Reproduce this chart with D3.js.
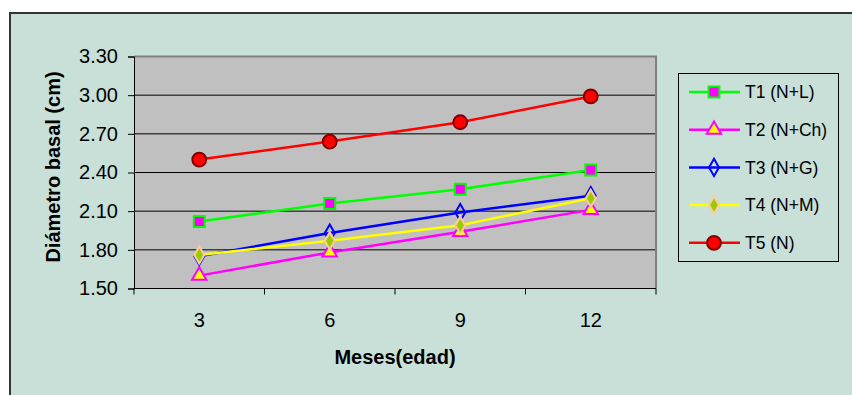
<!DOCTYPE html>
<html>
<head>
<meta charset="utf-8">
<script src="https://cdn.jsdelivr.net/npm/d3@7"></script>
<style>
  html, body { margin: 0; padding: 0; background: #ffffff; }
  svg { display: block; font-family: "Liberation Sans", Arial, sans-serif; }
</style>
</head>
<body>
<div id="chart"></div>
<script>
// data
const months = ["3", "6", "9", "12"];
const yTicks = [1.5, 1.8, 2.1, 2.4, 2.7, 3.0, 3.3];
const seriesNames = ["T1 (N+L)", "T2 (N+Ch)", "T3 (N+G)", "T4 (N+M)", "T5 (N)"];
const t1 = [2.02, 2.16, 2.27, 2.42];
const t2 = [1.60, 1.78, 1.94, 2.11];
const t3 = [1.75, 1.93, 2.09, 2.22];
const t4 = [1.76, 1.87, 1.99, 2.20];
const t5 = [2.50, 2.64, 2.79, 2.99];

const width = 852, height = 395;

// look of each series (line colour + marker)
const styles = [
  { line: "#00ff00", shape: d3.symbolSquare, size: 120, fill: "#ff00ff", stroke: "#00ff00", sw: 2 },
  { line: "#ff00ff", shape: d3.symbolTriangle, size: 90, fill: "#ffff00", stroke: "#ff00ff", sw: 2 },
  { line: "#0000ff", shape: d3.symbolDiamond, size: 85, fill: "none", stroke: "#0000ff", sw: 2 },
  { line: "#ffff00", shape: d3.symbolDiamond, size: 85, fill: "#99cc00", stroke: "#ffcc99", sw: 2 },
  { line: "#ff0000", shape: d3.symbolCircle, size: 150, fill: "#ff0000", stroke: "#800000", sw: 2 }
];
const series = [t1, t2, t3, t4, t5].map((vals, i) => ({ name: seriesNames[i], values: vals, style: styles[i] }));

const svg = d3.select("#chart").append("svg")
    .attr("width", width)
    .attr("height", height);

// chart area background + frame
svg.append("rect")
    .attr("x", 10).attr("y", 13)
    .attr("width", width).attr("height", height)
    .attr("fill", "#c9e0d8")
    .attr("stroke", "#333")
    .attr("stroke-width", 2);

const plot = { left: 134, right: 656, top: 56.5, bottom: 288.5 };

const x = d3.scaleBand().domain(months).range([plot.left, plot.right]);
const y = d3.scaleLinear().domain([1.5, 3.3]).range([plot.bottom, plot.top]);

// plot background
svg.append("rect")
    .attr("x", plot.left).attr("y", plot.top)
    .attr("width", plot.right - plot.left).attr("height", plot.bottom - plot.top)
    .attr("fill", "#c0c0c0");

// gridlines
svg.append("g")
  .selectAll("line")
  .data(yTicks.slice(1, -1))
  .join("line")
    .attr("x1", plot.left).attr("x2", plot.right)
    .attr("y1", d => y(d)).attr("y2", d => y(d))
    .attr("stroke", "#000")
    .attr("stroke-width", 1);

// plot border (top + right in gray)
svg.append("path")
    .attr("d", `M${plot.left},${plot.top}H${plot.right}V${plot.bottom}`)
    .attr("fill", "none")
    .attr("stroke", "#808080")
    .attr("stroke-width", 2);

// y axis
const yAxis = svg.append("g")
    .attr("transform", `translate(${plot.left},0)`)
    .call(d3.axisLeft(y).tickValues(yTicks).tickFormat(d3.format(".2f")).tickSize(6).tickPadding(10));
yAxis.select(".domain").attr("stroke", "#000");
yAxis.selectAll(".tick line").attr("stroke", "#000");
yAxis.selectAll("text").attr("font-size", 20).attr("fill", "#000")
    .attr("font-family", "Liberation Sans, Arial, sans-serif");

// x axis: ticks between categories like Excel
const xAxis = svg.append("g")
    .attr("transform", `translate(0,${plot.bottom})`);
xAxis.append("line")
    .attr("x1", plot.left).attr("x2", plot.right)
    .attr("stroke", "#000");
const edges = months.map(m => x(m)).concat([x(months[months.length - 1]) + x.bandwidth()]);
xAxis.selectAll(".edge")
  .data(edges)
  .join("line")
    .attr("class", "edge")
    .attr("x1", d => d).attr("x2", d => d)
    .attr("y1", 0).attr("y2", 6)
    .attr("stroke", "#000");
xAxis.selectAll("text")
  .data(months)
  .join("text")
    .attr("x", d => x(d) + x.bandwidth() / 2)
    .attr("y", 38)
    .attr("text-anchor", "middle")
    .attr("font-size", 20)
    .attr("fill", "#000")
    .text(d => d);

// axis titles
svg.append("text")
    .attr("x", (plot.left + plot.right) / 2)
    .attr("y", 364)
    .attr("text-anchor", "middle")
    .attr("font-size", 20)
    .attr("font-weight", "bold")
    .text("Meses(edad)");

svg.append("text")
    .attr("transform", "translate(60,167) rotate(-90)")
    .attr("text-anchor", "middle")
    .attr("font-size", 20)
    .attr("font-weight", "bold")
    .text("Diámetro basal (cm)");

// lines and markers
const line = d3.line()
    .x((d, i) => x(months[i]) + x.bandwidth() / 2)
    .y(d => y(d));

series.forEach(s => {
  const g = svg.append("g");
  g.append("path")
      .attr("d", line(s.values))
      .attr("fill", "none")
      .attr("stroke", s.style.line)
      .attr("stroke-width", 2.5);
  g.selectAll("path.mark")
    .data(s.values)
    .join("path")
      .attr("class", "mark")
      .attr("transform", (d, i) => `translate(${x(months[i]) + x.bandwidth() / 2},${y(d)})`)
      .attr("d", d3.symbol().type(s.style.shape).size(s.style.size))
      .attr("fill", s.style.fill)
      .attr("stroke", s.style.stroke)
      .attr("stroke-width", s.style.sw);
});

// legend
const legend = svg.append("g");
legend.append("rect")
    .attr("x", 678.5).attr("y", 73.5)
    .attr("width", 160).attr("height", 188)
    .attr("fill", "none")
    .attr("stroke", "#000");

const item = legend.selectAll("g.item")
  .data(series)
  .join("g")
    .attr("class", "item")
    .attr("transform", (d, i) => `translate(0,${92 + i * 37.7})`);
item.append("line")
    .attr("x1", 689).attr("x2", 740)
    .attr("stroke", d => d.style.line)
    .attr("stroke-width", 2.5);
item.append("path")
    .attr("transform", "translate(714,0)")
    .attr("d", d => d3.symbol().type(d.style.shape).size(d.style.size)())
    .attr("fill", d => d.style.fill)
    .attr("stroke", d => d.style.stroke)
    .attr("stroke-width", d => d.style.sw);
item.append("text")
    .attr("x", 745)
    .attr("dy", "0.35em")
    .attr("font-size", 17.5)
    .attr("fill", "#000")
    .text(d => d.name);
</script>
</body>
</html>
